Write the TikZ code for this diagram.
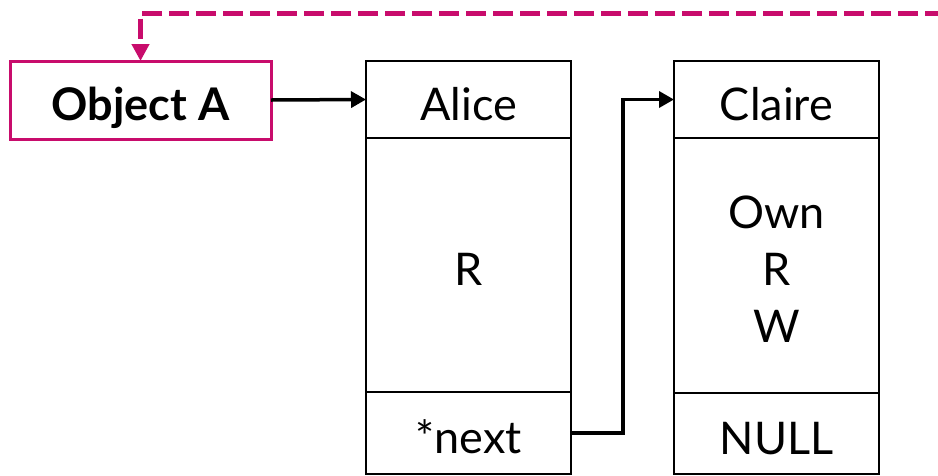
\documentclass[tikz,border=0pt]{standalone}
\usepackage{fontspec}
\setmainfont{Lato}
\usetikzlibrary{arrows.meta}
\definecolor{accent}{RGB}{200,12,108}
\begin{document}
\begin{tikzpicture}[x=1pt,y=-1pt,
  cell/.style={draw=black,line width=2.6pt,inner sep=0pt,outer sep=0pt,anchor=north west,
    minimum width=205pt,font=\fontsize{45}{54}\selectfont,align=center,
    text height=41pt,text depth=0pt},
  rights/.style={inner sep=0pt,font=\fontsize{45}{57}\selectfont,align=center},
  objbox/.style={draw=accent,line width=3pt,inner sep=0pt,outer sep=0pt,anchor=north west,
    minimum width=261pt,minimum height=78pt,font=\fontsize{45}{54}\selectfont\bfseries,
    text height=40pt,text depth=0pt},
  link/.style={line width=3.5pt,-{Triangle[length=15pt,width=16pt]}},
  ref/.style={draw=accent,line width=5pt,dash pattern=on 20pt off 7pt,
    -{Triangle[length=17pt,width=17pt]}}
]
\useasboundingbox (0,0) rectangle (938,475);
\node[objbox] (obj) at (10,61) {Object A};
% first record
\node[cell,minimum height=77pt] (ahd) at (366,61) {Alice};
\node[cell,minimum height=254pt] (abody) at (366,138) {R};
\node[cell,minimum height=82pt] (anext) at (366,392) {*next};
% second record
\node[cell,minimum height=77pt] (chd) at (674,61) {Claire};
\node[cell,minimum height=255pt] (cbody) at (674,138) {};
\node[rights] (crights) at ([yshift=-4pt]cbody.center) {Own\\R\\W};
\node[cell,minimum height=81pt] (cnull) at (674,393) {NULL};
% connectors
\coordinate (edge) at (945,13);
\draw[link] (obj.east) -- (ahd.west);
\draw[link] (anext.east) -- ++(52,0) |- (chd.west);
\draw[ref] (edge) -| (obj.north);
\end{tikzpicture}
\end{document}
